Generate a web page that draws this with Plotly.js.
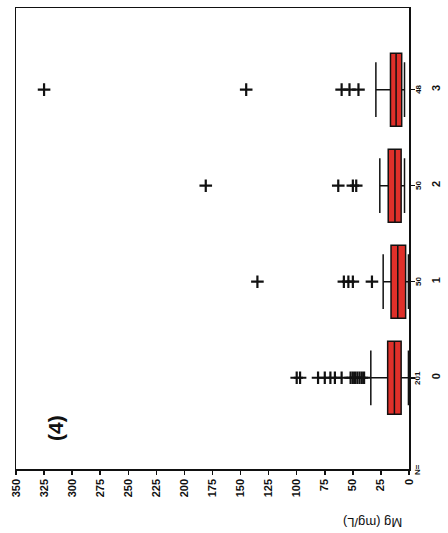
<!DOCTYPE html>
<html>
<head>
<meta charset="utf-8">
<script src="https://cdn.plot.ly/plotly-3.0.1.min.js"></script>
<style>html,body{margin:0;padding:0;background:#fff;}#chart{width:448px;height:533px;}</style>
</head>
<body>
<div id="chart"></div>
<script>
// Data
var categories = [0, 1, 2, 3];
var categoryLabels = ['0', '1', '2', '3'];
var counts = ['201', '50', '50', '48'];
var lowerFence = [0.5, 0.5, 4, 4];
var q1 = [7, 3, 7, 6.5];
var medians = [13, 10, 12.5, 11.5];
var q3 = [19, 16, 18.5, 16.5];
var upperFence = [34, 23, 26, 29.5];
var outliers0 = [100, 97, 81, 75, 70, 66, 60, 52, 50, 48, 46, 44, 42, 40];
var outliers1 = [135, 58, 54, 50, 33];
var outliers2 = [181, 63, 50, 47];
var outliers3 = [325, 145, 60, 53, 45];
var valueTicks = [0, 25, 50, 75, 100, 125, 150, 175, 200, 225, 250, 275, 300, 325, 350];

var outlierSets = [outliers0, outliers1, outliers2, outliers3];
var ox = [], oy = [];
outlierSets.forEach(function (s, i) {
  s.forEach(function (v) { ox.push(v); oy.push(categories[i]); });
});

var font = {family: 'Liberation Sans, Arial, sans-serif', color: '#111', weight: 'bold'};

var traces = [
  {
    type: 'box', orientation: 'h',
    y: categories, q1: q1, median: medians, q3: q3,
    lowerfence: lowerFence, upperfence: upperFence,
    boxpoints: false, width: 0.76, whiskerwidth: 0.75,
    fillcolor: '#e0302a', line: {color: '#111', width: 1.5},
    hoverinfo: 'skip', showlegend: false
  },
  {
    type: 'scatter', mode: 'markers', x: ox, y: oy,
    marker: {symbol: 'cross-thin', size: 9, line: {color: '#111', width: 2.2}},
    hoverinfo: 'skip', showlegend: false, cliponaxis: false
  }
];

var annotations = counts.map(function (c, i) {
  return {xref: 'paper', yref: 'y', x: 1.04, y: categories[i], text: c,
    showarrow: false, textangle: -90, font: Object.assign({}, font, {size: 8})};
});
annotations.push({xref: 'paper', yref: 'paper', x: 1.04, y: -0.018, text: 'N=',
  showarrow: false, textangle: -90, font: Object.assign({}, font, {size: 8})});
annotations.push({xref: 'x', yref: 'paper', x: 32, y: -0.095, yanchor: 'top', text: 'Mg (mg/L)',
  showarrow: false, textangle: 180, font: Object.assign({}, font, {size: 13, weight: 'normal'})});
annotations.push({xref: 'x', yref: 'y', x: 315, y: -0.52, text: '(4)',
  showarrow: false, textangle: -90, font: Object.assign({}, font, {size: 21})});

var layout = {
  width: 448, height: 533,
  margin: {l: 16, r: 39, t: 8, b: 64},
  paper_bgcolor: '#ffffff', plot_bgcolor: '#ffffff',
  showlegend: false,
  xaxis: {
    range: [350, 0], tickvals: valueTicks, ticktext: valueTicks.map(String),
    tickangle: -90, ticks: 'outside', ticklen: 4, tickwidth: 1.5, tickcolor: '#111',
    showgrid: false, zeroline: false, showline: true, linecolor: '#111', linewidth: 1.5,
    mirror: true, tickfont: Object.assign({}, font, {size: 11})
  },
  yaxis: {
    range: [-0.95, 3.85], side: 'right', tickvals: categories, ticktext: categoryLabels,
    tickangle: -90, ticks: 'outside', ticklen: 4, tickwidth: 1.5, tickcolor: '#111',
    ticklabelstandoff: 12,
    showgrid: false, zeroline: false, showline: true, linecolor: '#111', linewidth: 1.5,
    mirror: true, tickfont: Object.assign({}, font, {size: 11})
  },
  annotations: annotations
};

Plotly.newPlot('chart', traces, layout, {staticPlot: true, displayModeBar: false});
</script>
</body>
</html>
